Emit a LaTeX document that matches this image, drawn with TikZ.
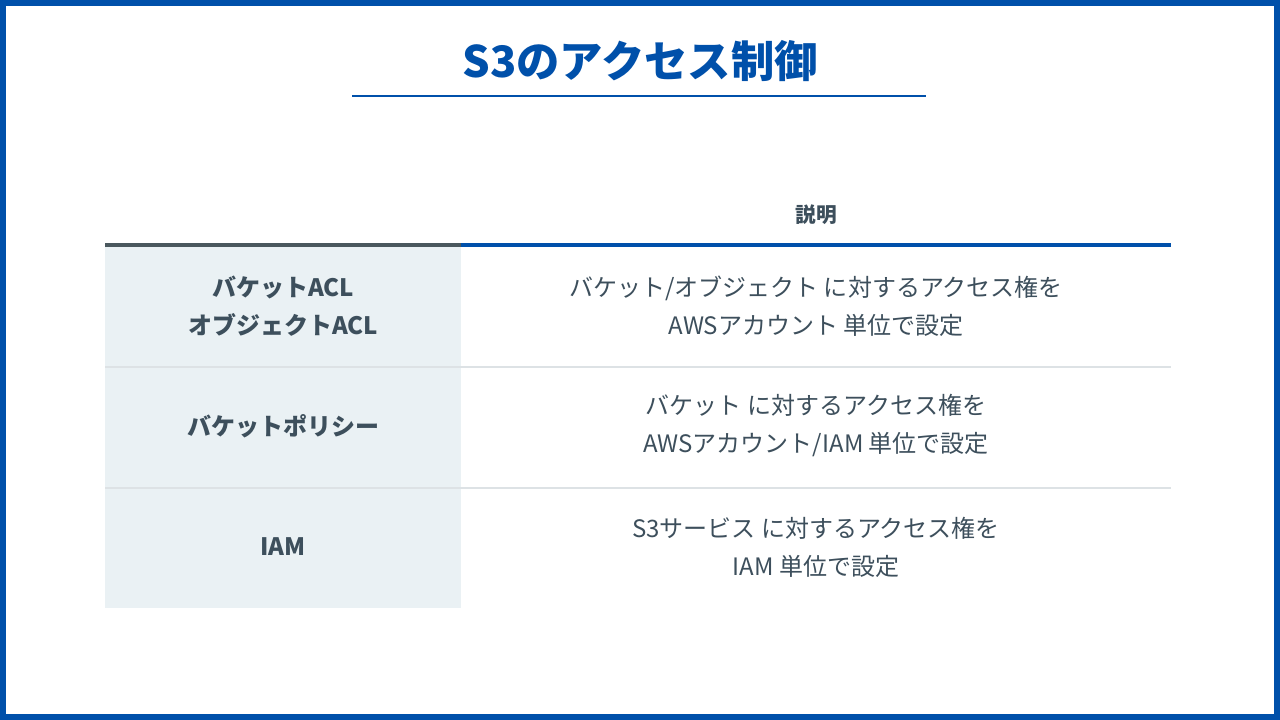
\documentclass[tikz,border=0pt]{standalone}
\usepackage{fontspec}
\setmainfont{Noto Sans CJK JP}
\definecolor{bl}{HTML}{0050AA}
\definecolor{tx}{HTML}{3D4F5C}
\definecolor{cl}{HTML}{EAF1F4}
\definecolor{dk}{HTML}{4A585E}
\definecolor{sep}{HTML}{DDE2E5}
\tikzset{cell/.style={text=tx,align=center,font=\fontsize{18}{28.5}\selectfont},
 head/.style={text=tx,align=center,font=\fontsize{18}{28.5}\selectfont\bfseries}}
\begin{document}
\begin{tikzpicture}[x=0.75pt,y=-0.75pt]
\useasboundingbox (0,0) rectangle (1280,720);
\fill[white] (0,0) rectangle (1280,720);
\draw[bl,line width=4.5pt] (3,3) rectangle (1277,717);
\node[text=bl,font=\fontsize{32.5}{38}\selectfont\bfseries] (t) at (640,61) {S3のアクセス制御};
\draw[bl,line width=2.2pt] (352,96) -- (926,96);
\fill[cl] (105,247) rectangle (461,608);
\draw[sep,line width=0.8pt] (105,367) -- (1171,367);
\draw[sep,line width=0.8pt] (105,488) -- (1171,488);
\draw[dk,line width=3pt] (105,245) -- (461,245);
\draw[bl,line width=3pt] (461,245) -- (1171,245);
\node[head,font=\fontsize{15.5}{20}\selectfont\bfseries] (h) at (816,215) {説明};
\node[head] (a1) at (283,306) {バケットACL\\オブジェクトACL};
\node[head] (a2) at (283,426) {バケットポリシー};
\node[head] (a3) at (283,547) {IAM};
\node[cell] (b1) at (816,306) {バケット/オブジェクト に対するアクセス権を\\AWSアカウント 単位で設定};
\node[cell] (b2) at (816,426) {バケット に対するアクセス権を\\AWSアカウント/IAM 単位で設定};
\node[cell] (b3) at (816,547) {S3サービス に対するアクセス権を\\IAM 単位で設定};
\end{tikzpicture}
\end{document}
